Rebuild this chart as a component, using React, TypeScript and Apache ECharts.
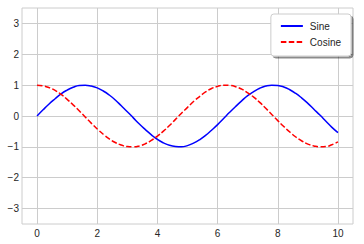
import React, { useEffect, useRef } from "react";
import * as echarts from "echarts";

const xValues = [0.0,0.2,0.4,0.6,0.8,1.0,1.2,1.4,1.6,1.8,2.0,2.2,2.4,2.6,2.8,3.0,3.2,3.4,3.6,3.8,4.0,4.2,4.4,4.6,4.8,5.0,5.2,5.4,5.6,5.8,6.0,6.2,6.4,6.6,6.8,7.0,7.2,7.4,7.6,7.8,8.0,8.2,8.4,8.6,8.8,9.0,9.2,9.4,9.6,9.8,10.0];
const sineValues = [0.00,0.20,0.39,0.56,0.72,0.84,0.93,0.99,1.00,0.97,0.91,0.81,0.68,0.52,0.33,0.14,-0.06,-0.26,-0.44,-0.61,-0.76,-0.87,-0.95,-0.99,-1.00,-0.96,-0.88,-0.77,-0.63,-0.46,-0.28,-0.08,0.12,0.31,0.49,0.66,0.79,0.90,0.97,1.00,0.99,0.94,0.85,0.73,0.58,0.41,0.22,0.03,-0.17,-0.37,-0.54];
const cosineValues = [1.00,0.98,0.92,0.83,0.70,0.54,0.36,0.17,-0.03,-0.23,-0.42,-0.59,-0.74,-0.86,-0.94,-0.99,-1.00,-0.97,-0.90,-0.79,-0.65,-0.49,-0.31,-0.11,0.09,0.28,0.47,0.63,0.78,0.89,0.96,1.00,0.99,0.95,0.87,0.75,0.61,0.44,0.25,0.05,-0.15,-0.34,-0.52,-0.68,-0.81,-0.91,-0.97,-1.00,-0.99,-0.93,-0.84];
const seriesNames = ["Sine", "Cosine"];
const xTickLabels = [0, 2, 4, 6, 8, 10];
const yTickLabels = [-3, -2, -1, 0, 1, 2, 3];

const FONT = '"Liberation Sans", Arial, sans-serif';
const fmt = (v: number) => (v < 0 ? "\u2212" + String(-v) : String(v));

export default function App() {
  const ref = useRef<HTMLDivElement>(null);
  useEffect(() => {
    document.body.style.margin = "0";
    const chart = echarts.init(ref.current!, null, { renderer: "svg" });
    const labelStyle = { fontFamily: FONT, fontSize: 10, color: "#262626" };
    chart.setOption({
      animation: false,
      backgroundColor: "#ffffff",
      grid: {
        left: 22, top: 8, right: 11, bottom: 20,
        show: true, borderColor: "#cccccc", borderWidth: 1,
      },
      legend: {
        orient: "vertical",
        right: 13, top: 14,
        data: seriesNames,
        backgroundColor: "#ffffff",
        borderColor: "#cccccc",
        borderWidth: 1,
        borderRadius: 3,
        padding: [7, 10, 9, 9],
        itemWidth: 22,
        itemHeight: 10,
        itemGap: 6,
        itemStyle: { opacity: 0 },
        shadowColor: "rgba(0,0,0,0.45)",
        shadowBlur: 1,
        shadowOffsetX: 2,
        shadowOffsetY: 2,
        textStyle: { ...labelStyle, padding: [0, 0, 0, 2] },
      },
      xAxis: {
        type: "value",
        min: -0.5, max: 10.5,
        axisLine: { show: false },
        axisTick: { show: false, customValues: xTickLabels },
        splitLine: { show: true, lineStyle: { color: "#cccccc", width: 1 } },
        axisLabel: { ...labelStyle, margin: 4, customValues: xTickLabels, formatter: (v: number) => fmt(v) },
      },
      yAxis: {
        type: "value",
        min: -3.5, max: 3.5,
        axisLine: { show: false },
        axisTick: { show: false, customValues: yTickLabels },
        splitLine: { show: true, lineStyle: { color: "#cccccc", width: 1 } },
        axisLabel: { ...labelStyle, margin: 3, customValues: yTickLabels, formatter: (v: number) => fmt(v) },
      },
      series: [
        {
          name: seriesNames[0], type: "line", showSymbol: false, symbol: "none", smooth: true,
          data: xValues.map((x, i) => [x, sineValues[i]]),
          lineStyle: { color: "#0000ff", width: 1.5 },
          itemStyle: { color: "#0000ff" },
        },
        {
          name: seriesNames[1], type: "line", showSymbol: false, symbol: "none", smooth: true,
          data: xValues.map((x, i) => [x, cosineValues[i]]),
          lineStyle: { color: "#ff0000", width: 1.5, type: [5.5, 2.4] },
          itemStyle: { color: "#ff0000" },
        },
      ],
    });
    return () => chart.dispose();
  }, []);
  return <div ref={ref} style={{ width: 364, height: 244 }} />;
}
